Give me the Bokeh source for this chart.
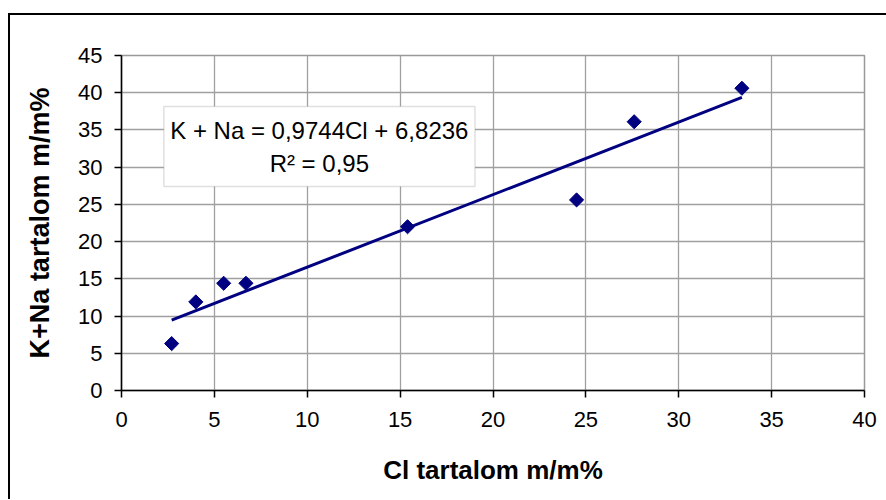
import numpy as np
from bokeh.plotting import figure
from bokeh.models import FixedTicker, BoxAnnotation, Label
from bokeh.embed import file_html
from bokeh.resources import INLINE

# Data
cl = [2.7, 4.0, 5.5, 6.7, 15.4, 24.5, 27.6, 33.4]
kna = [6.3, 11.9, 14.4, 14.4, 22.0, 25.6, 36.1, 40.6]
slope = 0.9744
intercept = 6.8236
x_ticks = [0, 5, 10, 15, 20, 25, 30, 35, 40]
y_ticks = [0, 5, 10, 15, 20, 25, 30, 35, 40, 45]
eq_text = "K + Na = 0,9744Cl + 6,8236"
r2_text = "R\u00b2 = 0,95"

FONT = "Liberation Sans"

p = figure(
    frame_width=743, frame_height=335,
    min_border_left=111, min_border_right=22,
    min_border_top=40, min_border_bottom=109,
    x_range=(0, 40), y_range=(0, 45),
    output_backend="svg", toolbar_location=None,
    background_fill_color="white", border_fill_color="white",
)
p.styles = {
    "border-top": "2px solid black",
    "border-left": "2px solid black",
    "position": "relative",
    "top": "13px",
    "left": "8px",
}

p.outline_line_color = "#999999"
p.outline_line_width = 1.5

for ax, ticks in ((p.xaxis, x_ticks), (p.yaxis, y_ticks)):
    ax.ticker = FixedTicker(ticks=ticks)
    ax.axis_line_color = "black"
    ax.axis_line_width = 1.5
    ax.major_tick_line_color = "black"
    ax.major_tick_line_width = 1.5
    ax.major_tick_out = 7
    ax.major_tick_in = 0
    ax.minor_tick_line_color = None
    ax.major_label_text_font = FONT
    ax.major_label_text_font_size = "22px"
    ax.major_label_text_color = "black"
    ax.axis_label_text_font = FONT
    ax.axis_label_text_font_style = "bold"
    ax.axis_label_text_color = "black"

p.xaxis.axis_label_text_font_size = "26px"
p.yaxis.axis_label_text_font_size = "27px"
p.xaxis.axis_label_standoff = 25
p.yaxis.axis_label_standoff = 20
p.xaxis.major_label_standoff = 14
p.yaxis.major_label_standoff = 12
p.xaxis.axis_label = "Cl tartalom m/m%"
p.yaxis.axis_label = "K+Na tartalom m/m%"

p.grid.grid_line_color = "#a0a0a0"
p.grid.grid_line_width = 1.3

# trend line from the fitted equation over the data extent
xs = [min(cl), max(cl)]
ys = [slope * v + intercept for v in xs]
p.line(xs, ys, line_color="#000080", line_width=3)

p.scatter(cl, kna, marker="square", angle=np.pi / 4, size=10,
          fill_color="#000080", line_color="#000080")

# equation box
box = BoxAnnotation(left=2.28, right=19.03, bottom=27.4, top=38.15,
                    fill_color="white", fill_alpha=1.0,
                    line_color="#999999", line_width=1.5)
p.add_layout(box)
p.add_layout(Label(x=10.65, y=34.93, text=eq_text, text_align="center",
                   text_baseline="middle", text_font=FONT,
                   text_font_size="24px", text_color="black"))
p.add_layout(Label(x=10.65, y=30.5, text=r2_text, text_align="center",
                   text_baseline="middle", text_font=FONT,
                   text_font_size="24px", text_color="black"))

open("out.html", "w").write(file_html(p, INLINE))
